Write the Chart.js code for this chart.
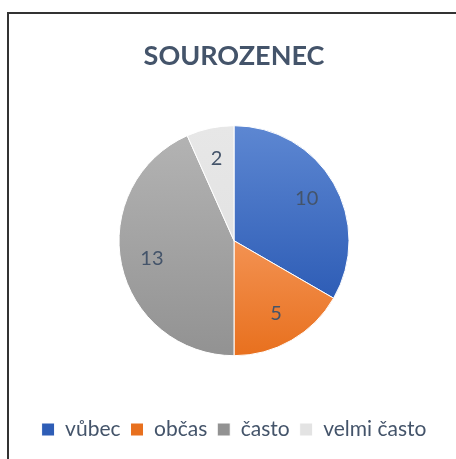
<!DOCTYPE html>
<html>
<head>
<meta charset="utf-8">
<script src="https://cdn.jsdelivr.net/npm/chart.js@4/dist/chart.umd.min.js"></script>
<style>
  html, body { margin: 0; padding: 0; background: #fff; overflow: hidden; }
  #frame { position: absolute; left: 7px; top: 12px; width: 700px; height: 700px;
           border-left: 2px solid #333; border-top: 2px solid #333; }
  #wrap { position: absolute; left: 0; top: 0; width: 456px; height: 459px; }
</style>
</head>
<body>
<div id="frame"></div>
<div id="wrap"><canvas id="c" width="456" height="459"></canvas></div>
<script>
// ---- data ----
const title = 'SOUROZENEC';
const categories = ['vůbec', 'občas', 'často', 'velmi často'];
const values = [10, 5, 13, 2];
// ---- style ----
const baseColors = ['#4472C4', '#ED7D31', '#A5A5A5', '#E7E6E6'];
const topColors = ['#5D87D2', '#F39252', '#B3B3B3', '#E7E7E7'];
const bottomColors = ['#2E5DB6', '#E8701E', '#929292', '#E3E3E3'];
const textColor = '#44546A';
const FONT = 'Lato, "Open Sans", sans-serif';
const RADIUS = 115;

function sliceGradient(c) {
  const i = c.dataIndex;
  const ch = c.chart;
  const a = ch.chartArea;
  if (!a) return baseColors[i];
  const cx = (a.left + a.right) / 2, cy = (a.top + a.bottom) / 2;
  const data = c.dataset.data;
  const total = data.reduce((s, v) => s + v, 0);
  let before = 0;
  for (let k = 0; k < i; k++) before += data[k];
  const start = -Math.PI / 2 + before / total * 2 * Math.PI;
  const end = start + data[i] / total * 2 * Math.PI;
  let ymin = cy, ymax = cy;
  for (let s = 0; s <= 60; s++) {
    const t = start + (end - start) * s / 60;
    const y = cy + RADIUS * Math.sin(t);
    ymin = Math.min(ymin, y); ymax = Math.max(ymax, y);
  }
  const g = ch.ctx.createLinearGradient(0, ymin, 0, ymax);
  g.addColorStop(0, topColors[i]);
  g.addColorStop(1, bottomColors[i]);
  return g;
}

const labelPlugin = {
  id: 'sliceLabels',
  afterDatasetsDraw(chart) {
    const ctx = chart.ctx;
    const meta = chart.getDatasetMeta(0);
    ctx.save();
    ctx.font = '20px ' + FONT;
    ctx.fillStyle = textColor;
    ctx.textAlign = 'center';
    ctx.textBaseline = 'middle';
    meta.data.forEach((arc, i) => {
      const p = arc.getProps(['x', 'y', 'startAngle', 'endAngle', 'outerRadius'], true);
      const mid = (p.startAngle + p.endAngle) / 2;
      const r = p.outerRadius * 0.73;
      ctx.fillText(String(chart.data.datasets[0].data[i]), p.x + r * Math.cos(mid), p.y + r * Math.sin(mid));
    });
    ctx.restore();
  }
};

new Chart(document.getElementById('c'), {
  type: 'pie',
  data: {
    labels: categories,
    datasets: [{
      data: values,
      backgroundColor: sliceGradient,
      borderColor: '#ffffff',
      borderWidth: 1,
      radius: RADIUS
    }]
  },
  options: {
    responsive: false,
    animation: false,
    layout: { padding: { left: 12, right: 0, top: 0, bottom: 9 } },
    plugins: {
      title: {
        display: true,
        text: title,
        color: textColor,
        font: { family: FONT, size: 27, weight: 'bold' },
        padding: { top: 40, bottom: 0 }
      },
      legend: {
        position: 'bottom',
        labels: {
          color: textColor,
          font: { family: FONT, size: 21 },
          boxWidth: 13,
          boxHeight: 13,
          padding: 10
        }
      },
      tooltip: { enabled: false }
    }
  },
  plugins: [labelPlugin]
});
</script>
</body>
</html>
